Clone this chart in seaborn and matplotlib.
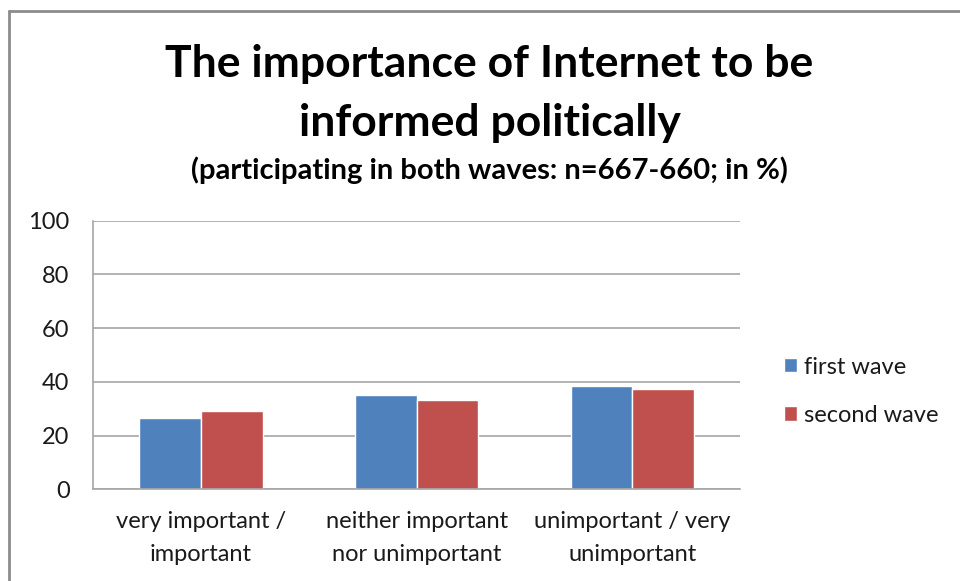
import numpy as np
import pandas as pd
import matplotlib
matplotlib.use("Agg")
import matplotlib.pyplot as plt
from matplotlib.lines import Line2D
import seaborn as sns

categories = ["very important /\nimportant",
              "neither important\nnor unimportant",
              "unimportant / very\nunimportant"]
waves = ["first wave", "second wave"]
firstWave = [26.4, 35.1, 38.3]
secondWave = [29.1, 33.1, 37.4]
yTicks = [0, 20, 40, 60, 80, 100]

df = pd.DataFrame({
    "category": categories * 2,
    "wave": [waves[0]] * 3 + [waves[1]] * 3,
    "value": firstWave + secondWave,
})

sns.set_theme(style="white")
plt.rcParams["font.family"] = ["Lato", "DejaVu Sans"]
textColor = "#1A1A1A"

fig = plt.figure(figsize=(9.6, 5.81), dpi=100)
ax = fig.add_axes([0.097, 0.158, 0.674, 0.462])

sns.barplot(data=df, x="category", y="value", hue="wave",
            palette=["#4F81BD", "#C0504D"], width=0.571,
            saturation=1, ax=ax, legend=True)

ax.set_ylim(0, 100)
ax.set_yticks(yTicks)
ax.set_xlim(-0.5, 2.5)
ax.set_xlabel("")
ax.set_ylabel("")
ax.yaxis.grid(True, color="#A6A6A6", linewidth=1.2)
ax.set_axisbelow(True)
for side in ["top", "right"]:
    ax.spines[side].set_visible(False)
for side in ["left", "bottom"]:
    ax.spines[side].set_color("#A6A6A6")
    ax.spines[side].set_linewidth(1.2)
ax.tick_params(axis="both", length=0, labelsize=17, colors=textColor)
ax.tick_params(axis="x", pad=16)
ax.tick_params(axis="y", pad=17)
for lbl in ax.get_xticklabels():
    lbl.set_linespacing(1.68)

handles, labels = ax.get_legend_handles_labels()
leg = ax.legend(handles, labels, loc="center left", bbox_to_anchor=(1.035, 0.365),
                frameon=False, fontsize=17, handlelength=0.55, handleheight=0.55,
                handletextpad=0.3, labelspacing=1.15)
for t in leg.get_texts():
    t.set_color(textColor)

fig.text(0.51, 0.839, "The importance of Internet to be\ninformed politically",
         ha="center", va="center", fontsize=32, fontweight="bold",
         linespacing=1.6, color="black")
fig.text(0.51, 0.707, "(participating in both waves: n=667-660; in %)",
         ha="center", va="center", fontsize=21, fontweight="bold", color="black")

# chart frame
fig.add_artist(Line2D([0.0095, 0.0095], [0.0, 0.981], transform=fig.transFigure,
                      color="#8C8C8C", linewidth=2))
fig.add_artist(Line2D([0.0095, 1.0], [0.981, 0.981], transform=fig.transFigure,
                      color="#8C8C8C", linewidth=2))

fig.savefig("out.png", dpi=100, facecolor="white")
